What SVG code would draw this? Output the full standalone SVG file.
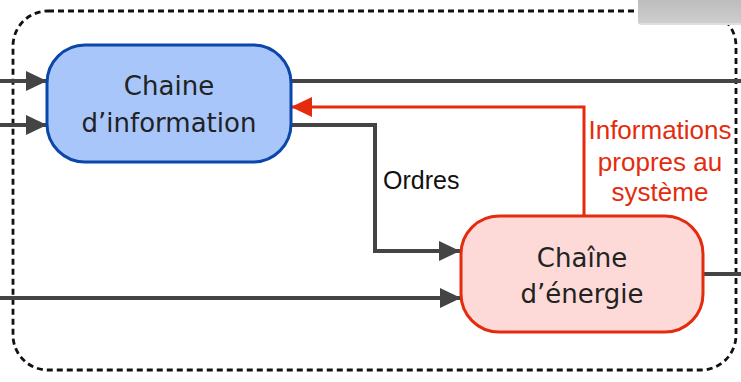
<svg xmlns="http://www.w3.org/2000/svg" width="741" height="382" viewBox="0 0 741 382">
<style>
.node-text{font-family:"DejaVu Sans",sans-serif;font-size:26px;fill:#222;text-anchor:middle}
.lbl{font-family:"Liberation Sans",Arial,sans-serif;font-size:25px}
.red-lbl{font-size:26px}
.g{fill:none;stroke:#444;stroke-width:4}
.r{fill:none;stroke:#e52b0d;stroke-width:3}
</style>
<defs>
<marker id="ag" markerWidth="21" markerHeight="20" refX="21" refY="10" orient="auto" markerUnits="userSpaceOnUse">
<path d="M0,0 L21,10 L0,20 Z" fill="#444"/>
</marker>
<marker id="ar" markerWidth="21" markerHeight="20" refX="21" refY="10" orient="auto" markerUnits="userSpaceOnUse">
<path d="M0,0 L21,10 L0,20 Z" fill="#e52b0d"/>
</marker>
<linearGradient id="gb" x1="0" y1="0" x2="0" y2="1">
<stop offset="0" stop-color="#bdbdbd"/>
<stop offset="1" stop-color="#cfcfcf"/>
</linearGradient>
</defs>
<rect width="741" height="382" fill="#fff"/>
<g id="boundary">
<rect x="13" y="11" width="723" height="359" rx="35" ry="35" fill="none" stroke="#111" stroke-width="2.8" stroke-dasharray="6 4"/>
</g>
<g id="corner-block">
<path d="M638,0 H741 V25 H642 Q638,25 638,21 Z" fill="url(#gb)"/>
<line x1="640" y1="24" x2="741" y2="24" stroke="#e4e4e4" stroke-width="1.5"/>
</g>
<g id="connectors">
<line class="g" x1="0" y1="81" x2="47" y2="81" marker-end="url(#ag)"/>
<line class="g" x1="0" y1="125" x2="47" y2="125" marker-end="url(#ag)"/>
<line class="g" x1="291" y1="81" x2="741" y2="81"/>
<polyline class="g" points="291,125 375,125 375,251 460,251" marker-end="url(#ag)"/>
<line class="g" x1="0" y1="298" x2="461" y2="298" marker-end="url(#ag)"/>
<line class="g" x1="703" y1="274" x2="741" y2="274"/>
<polyline class="r" points="584,216 584,107 291,107" marker-end="url(#ar)"/>
<text class="lbl" x="383" y="189" fill="#111">Ordres</text>
<g class="lbl red-lbl" fill="#e52b0d" text-anchor="middle">
<text x="660" y="139">Informations</text>
<text x="660" y="171">propres au</text>
<text x="660" y="201">système</text>
</g>
</g>
<g id="chaine-information">
<rect x="47" y="45" width="244" height="117" rx="38" ry="38" fill="#a8c6fa" stroke="#0a47a8" stroke-width="3"/>
<text class="node-text" x="169" y="95">Chaine</text>
<text class="node-text" x="169" y="132">d’information</text>
</g>
<g id="chaine-energie">
<rect x="461" y="216" width="242" height="116" rx="38" ry="38" fill="#fdd9d7" stroke="#e52b0d" stroke-width="3"/>
<text class="node-text" x="582" y="267">Chaîne</text>
<text class="node-text" x="582" y="303">d’énergie</text>
</g>
</svg>
